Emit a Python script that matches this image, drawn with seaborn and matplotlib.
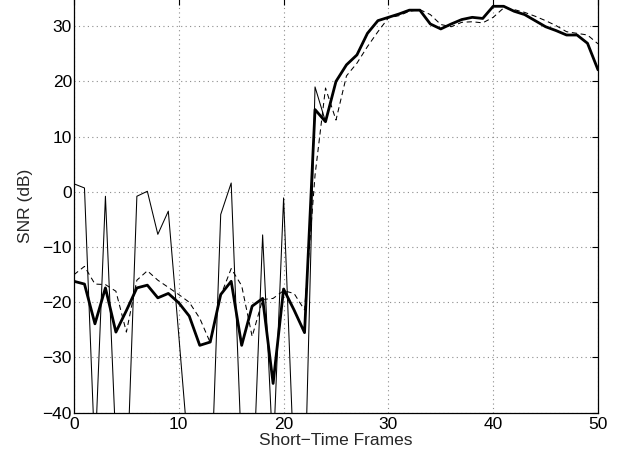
import pandas as pd
import matplotlib
matplotlib.use('Agg')
import matplotlib.pyplot as plt
import seaborn as sns

# Data (SNR per short-time frame)
frames = list(range(51))
snr_thick = [-16.2, -16.7, -23.9, -17.4, -25.4, -21.5, -17.4, -16.9, -19.2, -18.4,
             -20.1, -22.5, -27.8, -27.2, -18.6, -16.2, -27.8, -20.7, -19.3, -34.7,
             -17.6, -21.4, -25.5, 14.9, 12.7, 20.0, 23.0, 24.8, 28.7, 31.0,
             31.6, 32.2, 32.9, 32.9, 30.4, 29.5, 30.4, 31.2, 31.6, 31.4,
             33.6, 33.6, 32.7, 32.1, 31.0, 29.9, 29.2, 28.4, 28.4, 26.9, 22.1]
snr_thin = [1.45, 0.7, -48.0, -0.8, -46.0, -55.0, -0.8, 0.1, -7.7, -3.5,
            -26.0, -49.0, -55.0, -58.0, -4.1, 1.6, -48.0, -57.0, -7.8, -48.0,
            -1.1, -50.0, -56.0, 19.0, 12.7, 20.0, 23.0, 24.8, 28.7, 31.0,
            31.6, 32.2, 32.9, 32.9, 30.4, 29.5, 30.4, 31.2, 31.6, 31.4,
            33.6, 33.6, 32.7, 32.1, 31.0, 29.9, 29.2, 28.4, 28.4, 26.9, 22.1]
snr_dashed = [-15.0, -13.5, -16.7, -16.8, -18.0, -25.4, -16.0, -14.3, -16.0, -17.3,
              -18.6, -20.0, -22.9, -27.3, -18.8, -13.9, -17.0, -26.2, -19.5, -19.3,
              -17.9, -18.4, -21.4, 3.0, 18.8, 13.0, 21.0, 23.3, 26.3, 29.0,
              31.5, 31.9, 32.7, 33.0, 32.1, 30.3, 29.9, 30.7, 30.8, 30.6,
              31.6, 33.3, 33.0, 32.5, 31.8, 31.0, 30.1, 29.0, 28.7, 28.4, 26.8]
x_ticks = [0, 10, 20, 30, 40, 50]
y_ticks = [-40, -30, -20, -10, 0, 10, 20, 30]

df = pd.DataFrame({'frame': frames, 'thick': snr_thick,
                   'thin': snr_thin, 'dashed': snr_dashed})

sns.set_style('white')
plt.rcParams['font.family'] = ['Liberation Sans', 'DejaVu Sans']
plt.rcParams['axes.unicode_minus'] = True

fig = plt.figure(figsize=(6.34, 4.63), dpi=100)
ax = fig.add_axes([0.1167, 0.1086, 0.8265, 0.8945])

sns.lineplot(data=df, x='frame', y='thin', ax=ax, color='black', linewidth=0.75)
sns.lineplot(data=df, x='frame', y='dashed', ax=ax, color='black', linewidth=0.75,
             dashes=False, linestyle=(0, (5, 3.5)))
sns.lineplot(data=df, x='frame', y='thick', ax=ax, color='black', linewidth=2.0)

ax.set_xlim(0, 50)
ax.set_ylim(-40, 35)
ax.set_xticks(x_ticks)
ax.set_yticks(y_ticks)
ax.set_xticklabels([str(t) for t in x_ticks])
ax.set_yticklabels([str(t).replace('-', '\u2212') for t in y_ticks])
ax.grid(True, linestyle=(0, (1, 3)), color='0.55', linewidth=0.8)
ax.tick_params(direction='in', top=True, right=True, length=4, width=0.8,
               labelsize=12.5, colors='black')
ax.tick_params(axis='y', pad=1.5)
ax.tick_params(axis='x', pad=3)
for s in ax.spines.values():
    s.set_color('black')
    s.set_linewidth(0.9)

ax.set_xlabel('Short\u2212Time Frames', fontsize=12.5, labelpad=1)
ax.set_ylabel('SNR (dB)', fontsize=12.5, labelpad=7)

plt.savefig('out.png', dpi=100)
plt.close()
